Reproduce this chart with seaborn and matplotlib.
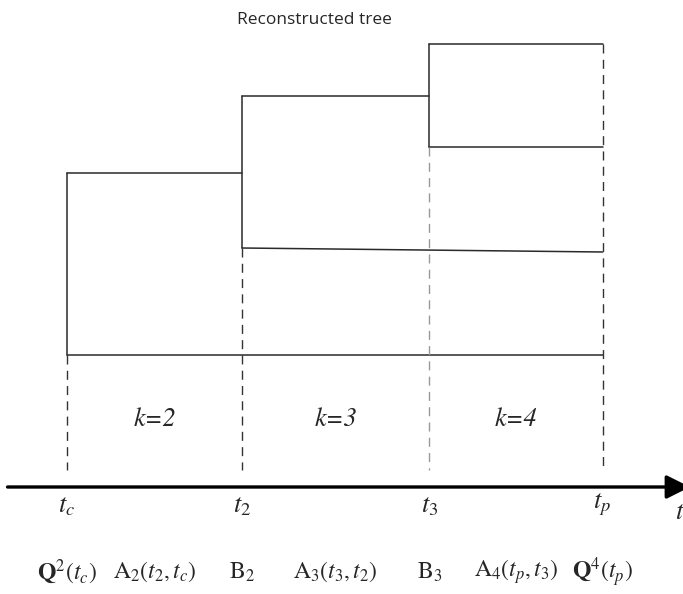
import seaborn as sns
import pandas as pd
import matplotlib.pyplot as plt

# event times (t_c, t_2, t_3, t_p) and their labels
times = [0.0, 1.0, 2.07, 3.06]
time_labels = ['$t_c$', '$t_2$', '$t_3$', '$t_p$']

# horizontal branches: start/end time index, level at start/end
branch_start = [0, 0, 1, 1, 2, 2]
branch_end = [3, 1, 2, 3, 3, 3]
branch_lev0 = [0, 182, 259, 107, 311, 208]
branch_lev1 = [0, 182, 259, 103, 311, 208]

# vertical split lines at each time: low and high level
split_time = [0, 1, 2]
split_low = [0, 107, 208]
split_high = [182, 259, 311]

# dashed guides: from this level down to guide_bottom
guide_top = [0, 107, 208, 311]
guide_color = ['#333333', '#333333', '#999999', '#333333']
guide_bottom = -115
axis_level = -132

k_labels = ['k=2', 'k=3', 'k=4']
bottom_labels = [r'$\mathbf{Q}^2(t_c)$', r'$\mathrm{A}_2(t_2,t_c)$', r'$\mathrm{B}_2$',
                 r'$\mathrm{A}_3(t_3,t_2)$', r'$\mathrm{B}_3$',
                 r'$\mathrm{A}_4(t_p,t_3)$', r'$\mathbf{Q}^4(t_p)$']

sns.set_style('white')
plt.rcParams['mathtext.fontset'] = 'stix'

fig = plt.figure(figsize=(6.83, 5.94), dpi=100)
ax = fig.add_axes([0, 0, 1, 1])

# build segments table
rows = []
seg = 0
for s, e, l0, l1 in zip(branch_start, branch_end, branch_lev0, branch_lev1):
    rows.append((seg, times[s], l0))
    rows.append((seg, times[e], l1))
    seg += 1
for ti, lo, hi in zip(split_time, split_low, split_high):
    rows.append((seg, times[ti], lo))
    rows.append((seg, times[ti], hi))
    seg += 1
tree = pd.DataFrame(rows, columns=['seg', 'time', 'level'])

sns.lineplot(data=tree, x='time', y='level', units='seg', estimator=None,
             sort=False, color='#2a2a2a', lw=1.1, ax=ax)

for t, top, c in zip(times, guide_top, guide_color):
    guides = pd.DataFrame({'time': [t, t], 'level': [top, guide_bottom]})
    sns.lineplot(data=guides, x='time', y='level', estimator=None, sort=False,
                 color=c, lw=1.0, ax=ax, linestyle=(0, (6.5, 4.5)))

# time axis arrow
ax.annotate('', xy=(3.56, axis_level), xytext=(-0.34, axis_level),
            annotation_clip=False,
            arrowprops=dict(arrowstyle='-|>', lw=2.4, color='black',
                            mutation_scale=36, shrinkA=0, shrinkB=0))

for t, lab in zip(times, time_labels):
    ax.text(t, -150, lab, ha='center', va='center', fontsize=19)
ax.text(3.475, -157, '$t$', ha='left', va='center', fontsize=19)

mids = [(times[i] + times[i + 1]) / 2 for i in range(3)]
for m, lab in zip(mids, k_labels):
    ax.text(m, -65, lab, ha='center', va='center', fontsize=19,
            family='STIXGeneral', style='italic')

bottom_x = [times[0], mids[0], times[1], mids[1], times[2], mids[2], times[3]]
for x, lab in zip(bottom_x, bottom_labels):
    ax.text(x, -217, lab, ha='center', va='center', fontsize=17)

fig.text(0.461, 0.966, 'Reconstructed tree', ha='center', va='center',
         fontsize=12.5, family='Open Sans')

ax.set_xlim(-0.383, 3.52)
ax.set_ylim(-239, 355)
ax.axis('off')

fig.savefig('out.png', dpi=100)
